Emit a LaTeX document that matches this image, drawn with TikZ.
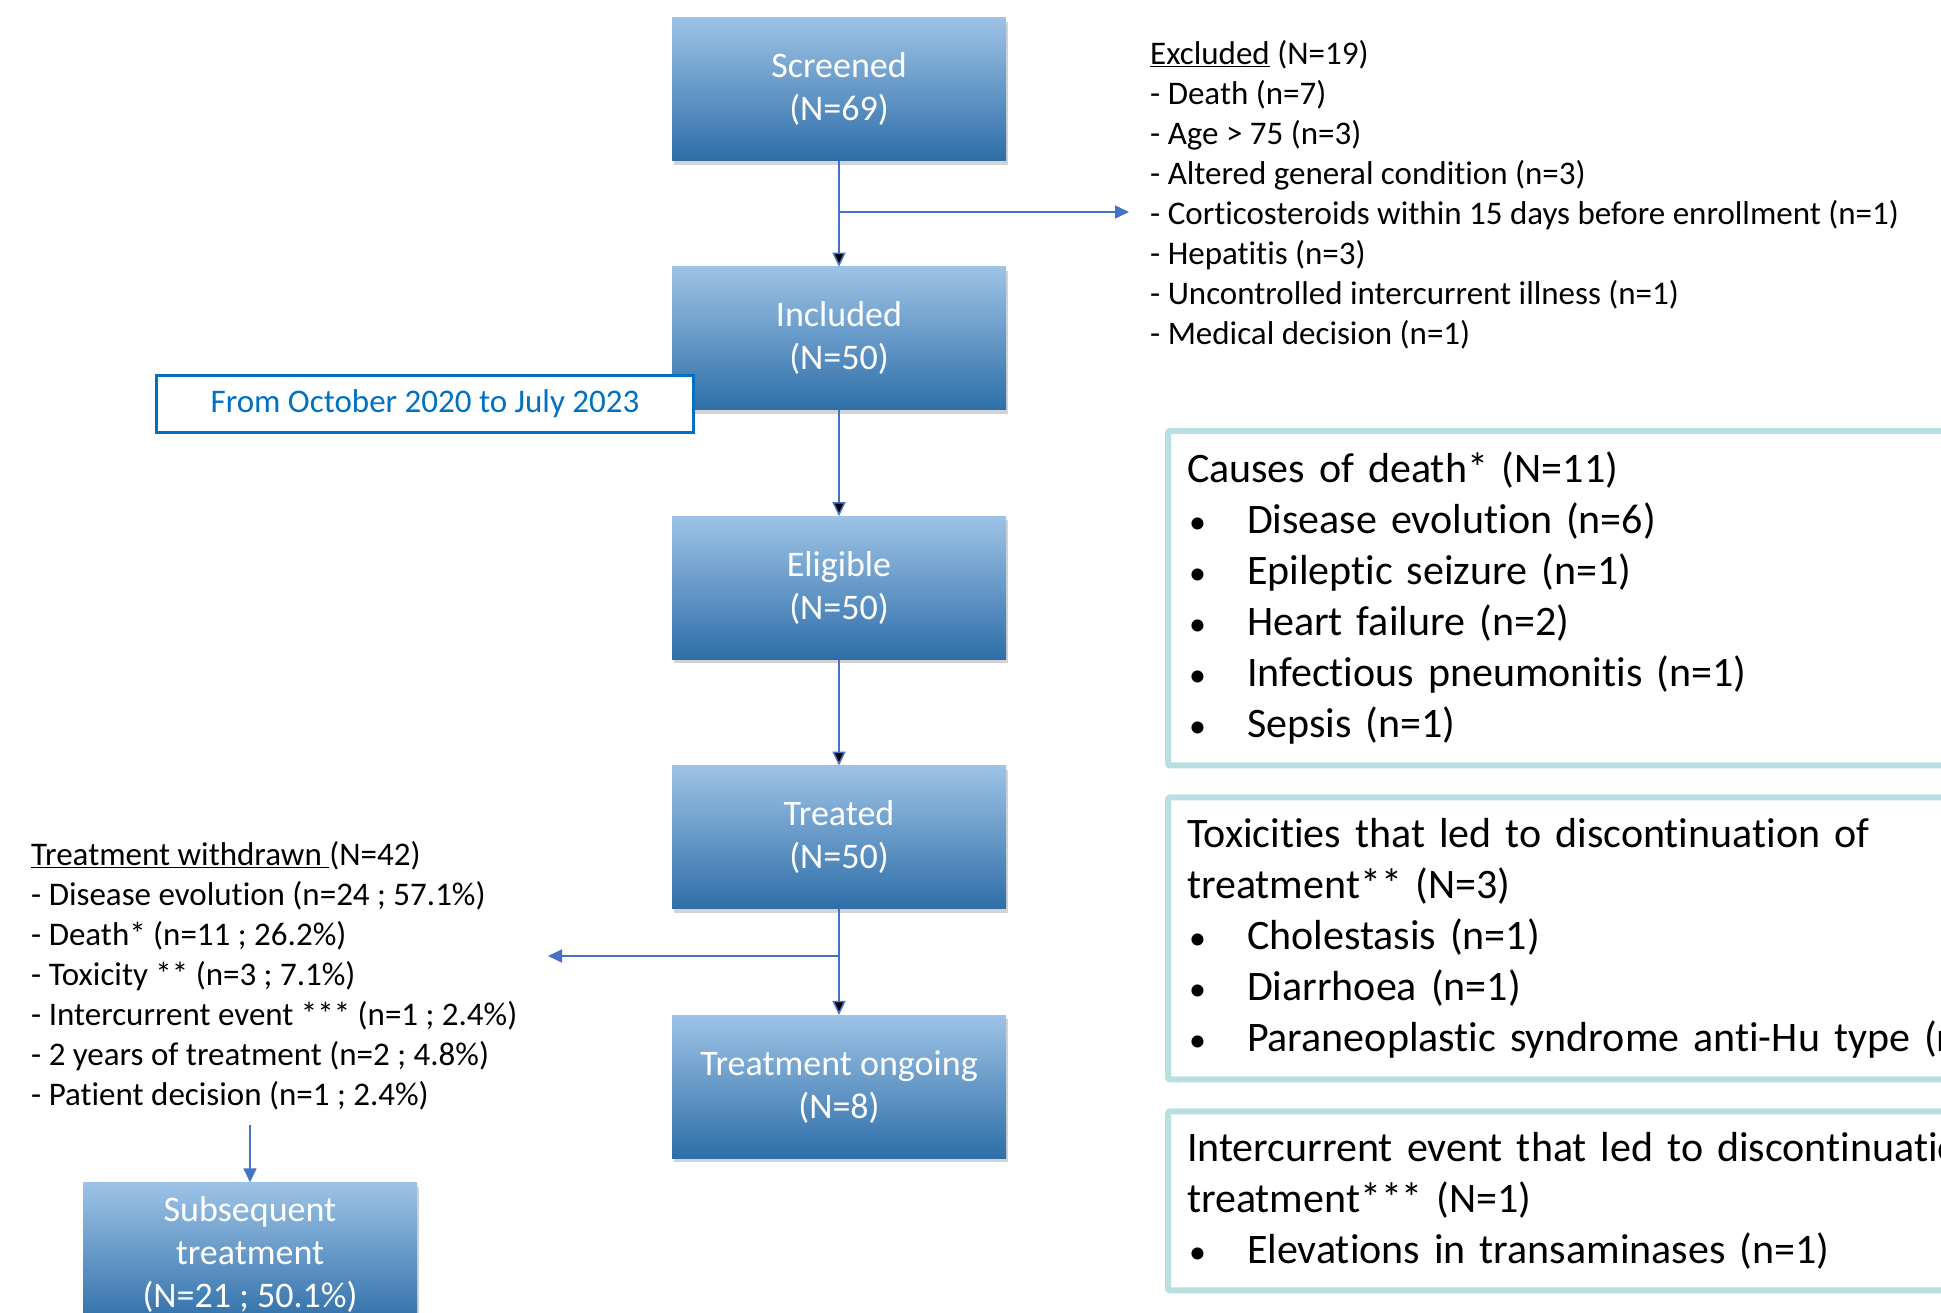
\documentclass[tikz,border=0pt]{standalone}
\usepackage{fontspec}
\setmainfont[Ligatures=NoCommon]{Carlito}
\usepackage{xcolor}
\usetikzlibrary{positioning,arrows.meta,shadows}
\definecolor{flowblue}{RGB}{68,114,196}
\definecolor{boxtop}{RGB}{157,195,230}
\definecolor{boxbot}{RGB}{46,110,168}
\definecolor{dateblue}{RGB}{0,112,192}
\definecolor{noteteal}{RGB}{185,223,226}
\newcommand{\bul}[1]{\makebox[60pt][l]{\hspace*{2pt}{\fontsize{34}{51}\selectfont\textbullet}}#1}

\begin{document}
\begin{tikzpicture}[x=1pt,y=-1pt,->,>={Triangle[length=14pt,width=13pt]},node distance=106pt,
	stage/.style={rectangle,minimum width=334pt,minimum height=143pt,top color=boxtop,bottom color=boxbot,
		text=white,align=center,font=\fontsize{36}{43}\selectfont,
		drop shadow={shadow xshift=2pt,shadow yshift=-4pt,opacity=0.35}},
	period/.style={rectangle,draw=dateblue,line width=3pt,fill=white,minimum width=537pt,minimum height=57pt,
		text=dateblue,font=\fontsize{33}{40}\selectfont},
	listtext/.style={align=left,inner sep=0pt,font=\fontsize{33}{40}\selectfont},
	notebox/.style={rectangle,draw=noteteal,line width=6pt,rounded corners=2pt,fill=white,anchor=north west,
		align=left,text width=880pt,inner xsep=19pt,inner ysep=21pt,font=\fontsize{42}{51}\selectfont},
	flow/.style={draw=flowblue,line width=1.5pt}]
	\useasboundingbox (0,0) rectangle (1941,1312);

	\node[stage] (screened) at (839,89) {Screened\\(N=69)};
	\node[stage] (included) [below=of screened] {Included\\(N=50)};
	\node[stage] (eligible) [below=of included] {Eligible\\(N=50)};
	\node[stage] (treated) [below=of eligible] {Treated\\(N=50)};
	\node[stage] (ongoing) [below=of treated] {Treatment ongoing\\(N=8)};

	\node[period] (period) at (425,404) {From October 2020 to July 2023};

	\node[listtext,anchor=west] (excluded) at (1150,195) {\underline{Excluded} (N=19)\\
		- Death (n=7)\\
		- Age > 75 (n=3)\\
		- Altered general condition (n=3)\\
		- Corticosteroids within 15 days before enrollment (n=1)\\
		- Hepatitis (n=3)\\
		- Uncontrolled intercurrent illness (n=1)\\
		- Medical decision (n=1)};
	\coordinate (exend) at (1129,212);

	\node[listtext,anchor=west] (withdrawn) at (31,976) {\underline{Treatment withdrawn\ }(N=42)\\
		- Disease evolution (n=24 ; 57.1\%)\\
		- Death* (n=11 ; 26.2\%)\\
		- Toxicity ** (n=3 ; 7.1\%)\\
		- Intercurrent event *** (n=1 ; 2.4\%)\\
		- 2 years of treatment (n=2 ; 4.8\%)\\
		- Patient decision (n=1 ; 2.4\%)};
	\coordinate (wdend) at (548,956);
	\node[stage] (subseq) at (250,1254) {Subsequent\\treatment\\(N=21 ; 50.1\%)};

	\node[notebox] (deaths) at (1165,428) {Causes of death* (N=11)\\
		\bul{Disease evolution (n=6)}\\
		\bul{Epileptic seizure (n=1)}\\
		\bul{Heart failure (n=2)}\\
		\bul{Infectious pneumonitis (n=1)}\\
		\bul{Sepsis (n=1)}};
	\node[notebox] (toxicities) [below=26pt of deaths.south west,anchor=north west] {Toxicities that led to discontinuation of\\
		treatment** (N=3)\\
		\bul{Cholestasis (n=1)}\\
		\bul{Diarrhoea (n=1)}\\
		\bul{Paraneoplastic syndrome anti-Hu type (n=1)}};
	\node[notebox] (event) [below=26pt of toxicities.south west,anchor=north west] {Intercurrent event that led to discontinuation of\\
		treatment*** (N=1)\\
		\bul{Elevations in transaminases (n=1)}};

	\draw[flow] (screened) edge (included)
		(included) edge (eligible)
		(eligible) edge (treated)
		(treated) edge (ongoing);
	\draw[flow] (exend -| screened) -- (exend);
	\draw[flow] (wdend -| treated) -- (wdend);
	\draw[flow] ([yshift=-14pt]withdrawn.south -| subseq.north) -- (subseq.north);
\end{tikzpicture}
\end{document}
